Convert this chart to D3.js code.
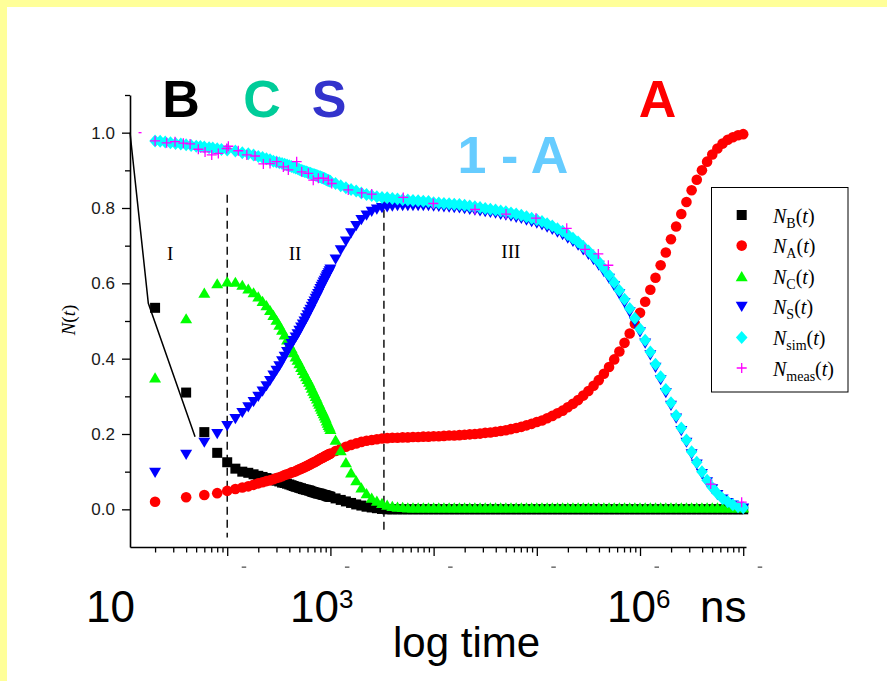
<!DOCTYPE html>
<html><head><meta charset="utf-8">
<script src="https://cdn.jsdelivr.net/npm/d3@7"></script>
<style>body{margin:0;background:#fff}svg{display:block}</style>
</head><body>
<svg id="c" width="887" height="681"></svg>
<script>
// ---------- DATA ----------
// simulation time grid (ns): 20 ns steps up to 1 µs, then ~0.05 decade
const timeNs = [
 20, 40, 60, 80,
 100,120,140,160,180,200,220,240,260,280,300,320,340,360,380,400,420,440,460,480,500,520,540,560,580,600,620,640,660,680,700,720,740,760,780,800,820,840,860,880,900,920,940,960,980,1000,
 1122,1259,1413,1585,1778,1995,2239,2512,2818,3162,3548,3981,4467,5012,5623,6310,7079,7943,8913,
 1.0e4,1.122e4,1.259e4,1.413e4,1.585e4,1.778e4,1.995e4,2.239e4,2.512e4,2.818e4,3.162e4,3.548e4,3.981e4,4.467e4,5.012e4,5.623e4,6.310e4,7.079e4,7.943e4,8.913e4,
 1.0e5,1.122e5,1.259e5,1.413e5,1.585e5,1.778e5,1.995e5,2.239e5,2.512e5,2.818e5,3.162e5,3.548e5,3.981e5,4.467e5,5.012e5,5.623e5,6.310e5,7.079e5,7.943e5,8.913e5,
 1.0e6,1.122e6,1.259e6,1.413e6,1.585e6,1.778e6,1.995e6,2.239e6,2.512e6,2.818e6,3.162e6,3.548e6,3.981e6,4.467e6,5.012e6,5.623e6,6.310e6,7.079e6,7.943e6,8.913e6,
 1.0e7
];
const nB = [
 0.535,0.31,0.205,0.15,
 0.125,0.108,0.100,0.097,0.093,0.089,0.086,0.083,0.081,0.078,0.076,0.074,0.071,0.070,0.068,0.066,0.064,0.062,0.060,0.059,0.057,0.056,0.054,0.053,0.052,0.051,0.050,0.049,0.047,0.046,0.045,0.044,0.043,0.042,0.042,0.041,0.040,0.039,0.038,0.038,0.037,0.036,0.035,0.034,0.034,0.033,
 0.029,0.025,0.021,0.017,0.013,0.010,0.007,0.005,0.003,0.001,0,0,0,0,0,0,0,0,0,
 0,0,0,0,0,0,0,0,0,0,0,0,0,0,0,0,0,0,0,0,
 0,0,0,0,0,0,0,0,0,0,0,0,0,0,0,0,0,0,0,0,
 0,0,0,0,0,0,0,0,0,0,0,0,0,0,0,0,0,0,0,0,
 0
];
const nA = [
 0.020,0.032,0.038,0.043,
 0.049,0.054,0.058,0.061,0.065,0.069,0.072,0.075,0.077,0.080,0.083,0.085,0.088,0.091,0.093,0.095,0.098,0.099,0.101,0.104,0.106,0.108,0.110,0.112,0.114,0.116,0.118,0.120,0.122,0.124,0.125,0.127,0.129,0.131,0.133,0.134,0.136,0.137,0.139,0.140,0.142,0.143,0.144,0.146,0.147,0.148,
 0.155,0.161,0.166,0.171,0.175,0.179,0.182,0.184,0.186,0.188,0.189,0.190,0.190,0.191,0.191,0.192,0.192,0.193,0.193,
 0.194,0.194,0.195,0.196,0.196,0.197,0.198,0.199,0.200,0.201,0.203,0.204,0.206,0.208,0.210,0.213,0.216,0.219,0.223,0.227,
 0.232,0.236,0.242,0.248,0.255,0.262,0.271,0.280,0.290,0.302,0.314,0.328,0.343,0.360,0.378,0.398,0.419,0.442,0.467,0.493,
 0.522,0.551,0.583,0.615,0.648,0.682,0.717,0.751,0.784,0.816,0.847,0.875,0.900,0.923,0.942,0.958,0.971,0.981,0.988,0.993,
 0.996
];
const nC = [
 0.350,0.507,0.575,0.600,
 0.605,0.604,0.596,0.586,0.576,0.565,0.553,0.542,0.529,0.516,0.503,0.490,0.477,0.464,0.451,0.439,0.428,0.417,0.406,0.397,0.388,0.378,0.370,0.361,0.353,0.346,0.339,0.331,0.323,0.315,0.308,0.301,0.294,0.286,0.280,0.273,0.267,0.261,0.255,0.249,0.243,0.236,0.230,0.224,0.219,0.213,
 0.185,0.157,0.125,0.098,0.077,0.058,0.043,0.031,0.023,0.017,0.012,0.009,0.007,0.006,0.005,0.005,0.005,0.005,0.005,
 0.005,0.005,0.005,0.005,0.005,0.005,0.005,0.005,0.005,0.005,0.005,0.005,0.005,0.005,0.005,0.005,0.005,0.005,0.005,0.005,
 0.005,0.005,0.005,0.005,0.005,0.005,0.005,0.005,0.005,0.005,0.005,0.005,0.005,0.005,0.005,0.005,0.005,0.005,0.005,0.005,
 0.005,0.005,0.005,0.005,0.005,0.005,0.005,0.005,0.005,0.005,0.005,0.005,0.005,0.005,0.005,0.005,0.005,0.005,0.005,0.005,
 0.005
];
const nS = [
 0.097,0.145,0.177,0.200,
 0.221,0.240,0.256,0.271,0.285,0.299,0.313,0.327,0.341,0.355,0.368,0.380,0.393,0.405,0.418,0.429,0.439,0.447,0.456,0.465,0.474,0.483,0.491,0.499,0.507,0.515,0.523,0.530,0.538,0.545,0.552,0.559,0.565,0.572,0.578,0.585,0.591,0.596,0.602,0.607,0.613,0.618,0.622,0.627,0.632,0.637,
 0.663,0.688,0.711,0.733,0.752,0.768,0.780,0.790,0.796,0.800,0.802,0.804,0.805,0.805,0.805,0.805,0.805,0.805,0.805,
 0.804,0.803,0.802,0.801,0.800,0.799,0.797,0.795,0.793,0.791,0.789,0.787,0.785,0.782,0.780,0.777,0.774,0.771,0.767,0.763,
 0.759,0.754,0.748,0.742,0.735,0.728,0.719,0.710,0.700,0.688,0.676,0.662,0.647,0.630,0.612,0.592,0.571,0.548,0.523,0.497,
 0.470,0.440,0.409,0.376,0.343,0.309,0.275,0.241,0.208,0.177,0.146,0.119,0.094,0.072,0.053,0.038,0.026,0.017,0.010,0.005,
 0.002
];
const nSim = [
 0.978,0.968,0.962,0.957,
 0.954,0.951,0.947,0.944,0.941,0.937,0.934,0.931,0.928,0.924,0.922,0.920,0.918,0.916,0.914,0.912,0.910,0.908,0.906,0.905,0.902,0.900,0.899,0.897,0.896,0.894,0.893,0.892,0.890,0.889,0.888,0.887,0.886,0.884,0.883,0.883,0.881,0.880,0.879,0.878,0.876,0.875,0.874,0.873,0.872,0.871,
 0.865,0.859,0.854,0.849,0.845,0.840,0.836,0.833,0.830,0.828,0.827,0.825,0.824,0.822,0.821,0.820,0.819,0.818,0.817,
 0.814,0.813,0.812,0.811,0.810,0.809,0.807,0.805,0.803,0.801,0.799,0.797,0.795,0.792,0.790,0.787,0.784,0.781,0.777,0.773,
 0.769,0.764,0.758,0.752,0.745,0.738,0.729,0.720,0.710,0.698,0.686,0.672,0.657,0.640,0.622,0.602,0.581,0.558,0.533,0.507,
 0.479,0.449,0.418,0.385,0.352,0.318,0.283,0.249,0.216,0.184,0.153,0.125,0.100,0.077,0.058,0.042,0.029,0.020,0.012,0.007,
 0.004
];
// extra early simulation points (finer grid before 100 ns)
const simExtraT = [22.4,25.1,28.2,31.6,35.5,44.7,50.1,54.9,66.8,72.4,88.0];
const simExtraV = [0.977,0.975,0.973,0.971,0.970,0.966,0.964,0.963,0.960,0.959,0.955];
// measured points
const measT = [20.0,25.9,31.2,37.6,43.7,52.5,61.0,70.8,82.0,98.9,102.6,128,155,186,224,260,302,350,391,471,527,611,682,764,853,955,1030,1489,2009,2512,5082,9931,25180,50350,98170,1.95e5,2.931e5,3.945e5,4.932e5,4.842e6,9.66e6];
const measV = [0.978,0.973,0.976,0.972,0.970,0.956,0.949,0.941,0.945,0.958,0.964,0.952,0.941,0.938,0.917,0.918,0.923,0.909,0.901,0.923,0.896,0.892,0.874,0.879,0.879,0.874,0.865,0.848,0.840,0.837,0.828,0.812,0.796,0.784,0.773,0.746,0.690,0.678,0.648,0.067,0.019];
const measFirstT = [14.3];
const measFirstV = [1.0];
// fitted line through B at early times
const fitT = [11.43, 17.2, 48.8];
const fitV = [1.0, 0.547, 0.193];
// dashed region separators
const dashT = [100, 3300];
const dashTop = [0.835, 0.83];
const dashBottom = [-0.075, -0.06];
// region numerals
const regionLabels = ["I","II","III"];
const regionT = [28, 454, 5.6e4];
const regionV = [0.662, 0.662, 0.667];
// axis ticks
const xMajorTicks = [1e2,1e3,1e4,1e5,1e6,1e7];
const yMajorTicks = [0,0.2,0.4,0.6,0.8,1.0];
const yMinorTicks = [0.1,0.3,0.5,0.7,0.9,1.1];
// legend
const legendSubs = ["B","A","C","S","sim","meas"];

// ---------- DRAW ----------
const W = 887, H = 681;
const svg = d3.select('#c');
svg.append('rect').attr('width', W).attr('height', H).attr('fill', '#fff');
svg.append('rect').attr('x', 0).attr('y', 0).attr('width', W).attr('height', 7).attr('fill', '#ffff99');
svg.append('rect').attr('x', 0).attr('y', 0).attr('width', 7).attr('height', H).attr('fill', '#ffff99');

const x = d3.scaleLog().domain([11.43, 1.0641e7]).range([130, 746]);
const y = d3.scaleLinear().domain([-0.1, 1.1]).range([547, 95]);

const SANS = "'Liberation Sans', Arial, Helvetica, sans-serif";
const SERIF = "'Liberation Serif', 'Times New Roman', Times, serif";

// axes
const xMinorTicks = x.ticks().filter(v => !xMajorTicks.includes(v) && Math.abs(Math.log10(v) % 1) > 1e-6);
const gx = svg.append('g').attr('transform', 'translate(0,547)');
gx.call(d3.axisBottom(x).tickValues(xMajorTicks).tickSize(9).tickSizeOuter(0).tickFormat(''));
const gxm = svg.append('g').attr('transform', 'translate(0,547)');
gxm.call(d3.axisBottom(x).tickValues(xMinorTicks).tickSize(5.5).tickSizeOuter(0).tickFormat(''));
gxm.select('.domain').remove();

const gy = svg.append('g').attr('transform', 'translate(130,0)');
gy.call(d3.axisLeft(y).tickValues(yMajorTicks).tickSize(8).tickPadding(7).tickSizeOuter(0).tickFormat(d3.format('.1f')));
const gym = svg.append('g').attr('transform', 'translate(130,0)');
gym.call(d3.axisLeft(y).tickValues(yMinorTicks).tickSize(5).tickSizeOuter(0).tickFormat(''));
gym.select('.domain').remove();

svg.selectAll('.domain').attr('stroke', '#000').attr('stroke-width', 1.6);
svg.selectAll('.tick line').attr('stroke', '#000').attr('stroke-width', 1.3);
gy.selectAll('.tick text').attr('font-family', SANS).attr('font-size', 17).attr('fill', '#1a1a1a');

// remnants of hidden tick labels
svg.append('g').selectAll('rect').data(xMajorTicks).join('rect')
  .attr('x', d => x(d) + 14.5).attr('y', 566.5).attr('width', 4.5).attr('height', 1.3).attr('fill', '#555');

// dashed separators
svg.append('g').selectAll('line').data(dashT).join('line')
  .attr('x1', d => x(d)).attr('x2', d => x(d))
  .attr('y1', (d, i) => y(dashTop[i])).attr('y2', (d, i) => y(dashBottom[i]))
  .attr('stroke', '#000').attr('stroke-width', 1.4).attr('stroke-dasharray', '8,5');

// region numerals
svg.append('g').selectAll('text').data(regionLabels).join('text')
  .attr('x', (d, i) => x(regionT[i])).attr('y', (d, i) => y(regionV[i]))
  .attr('text-anchor', 'middle').attr('font-family', SERIF).attr('font-size', 19).attr('fill', '#000')
  .text(d => d);

// marker shapes
const shapes = {
  square: 'M-5,-5H5V5H-5Z',
  circle: d3.symbol(d3.symbolCircle, Math.PI * 5.3 * 5.3)(),
  tri: 'M0,-5.2L6,5H-6Z',
  tridown: 'M0,5.2L6,-5H-6Z',
  diamond: 'M0,-6.5L5.8,0L0,6.5L-5.8,0Z',
  plus: 'M-5,0H5M0,-5V5',
  tinyplus: 'M-1.5,0H1.5'
};
const series = [
  {t: timeNs, vals: nB, color: '#000000', shape: 'square'},
  {t: timeNs, vals: nA, color: '#ff0000', shape: 'circle'},
  {t: timeNs, vals: nC, color: '#00ff00', shape: 'tri'},
  {t: timeNs, vals: nS, color: '#0000ff', shape: 'tridown'},
  {t: simExtraT.concat(timeNs), vals: simExtraV.concat(nSim), color: '#00ffff', shape: 'diamond'}
];

// B fit line (under markers)
svg.append('path')
  .attr('d', d3.line().x(d => x(d[0])).y(d => y(d[1]))(fitT.map((t, i) => [t, fitV[i]])))
  .attr('fill', 'none').attr('stroke', '#000').attr('stroke-width', 1.5);

series.forEach(s => {
  const pts = s.t.map((t, i) => [t, s.vals[i]]).filter(d => d[1] !== undefined);
  svg.append('g').selectAll('path').data(pts).join('path')
    .attr('transform', d => `translate(${x(d[0])},${y(d[1])})`)
    .attr('d', shapes[s.shape]).attr('fill', s.color);
});
const gm = svg.append('g').attr('fill', 'none').attr('stroke', '#ff00ff').attr('stroke-width', 1.3);
gm.selectAll('path.m').data(measT.map((t, i) => [t, measV[i]])).join('path').attr('class', 'm')
  .attr('transform', d => `translate(${x(d[0])},${y(d[1])})`).attr('d', shapes.plus);
gm.selectAll('path.f').data(measFirstT.map((t, i) => [t, measFirstV[i]])).join('path').attr('class', 'f')
  .attr('transform', d => `translate(${x(d[0])},${y(d[1])})`).attr('d', shapes.tinyplus);

// legend
const lg = svg.append('g');
lg.append('rect').attr('x', 711.5).attr('y', 187.5).attr('width', 136.5).attr('height', 204.5)
  .attr('fill', '#fff').attr('stroke', '#000').attr('stroke-width', 1);
const legendShapes = ['square', 'circle', 'tri', 'tridown', 'diamond', 'plus'];
const legendColors = ['#000000', '#ff0000', '#00ff00', '#0000ff', '#00ffff', '#ff00ff'];
legendSubs.forEach((sub, i) => {
  const cy = 215 + i * 30.6;
  const p = lg.append('path').attr('transform', `translate(741.7,${cy})`).attr('d', shapes[legendShapes[i]]);
  if (legendShapes[i] === 'plus') p.attr('fill', 'none').attr('stroke', legendColors[i]).attr('stroke-width', 1.3);
  else p.attr('fill', legendColors[i]);
  const t = lg.append('text').attr('x', 773).attr('y', cy + 7.5).attr('font-family', SERIF).attr('font-size', 20).attr('fill', '#000');
  t.append('tspan').attr('font-style', 'italic').text('N');
  t.append('tspan').attr('font-size', 14).attr('dy', 5).text(sub);
  t.append('tspan').attr('dy', -5).text('(');
  t.append('tspan').attr('font-style', 'italic').text('t');
  t.append('tspan').text(')');
});

// y axis title
const yt = svg.append('text').attr('transform', 'translate(75,320) rotate(-90)')
  .attr('text-anchor', 'middle').attr('font-family', SERIF).attr('font-size', 19).attr('fill', '#000');
yt.append('tspan').attr('font-style', 'italic').text('N');
yt.append('tspan').text('(');
yt.append('tspan').attr('font-style', 'italic').text('t');
yt.append('tspan').text(')');

// big species labels
const bigLabels = [
  {t: 'B', x: 181, y: 117, c: '#000000'},
  {t: 'C', x: 262, y: 117, c: '#00cc99'},
  {t: 'S', x: 329, y: 117, c: '#3333cc'},
  {t: 'A', x: 657.5, y: 117, c: '#ff0000'},
  {t: '1 - A', x: 513, y: 173, c: '#66ccff'}
];
svg.append('g').selectAll('text').data(bigLabels).join('text')
  .attr('x', d => d.x).attr('y', d => d.y).attr('text-anchor', 'middle')
  .attr('font-family', SANS).attr('font-weight', 'bold').attr('font-size', 52)
  .attr('fill', d => d.c).text(d => d.t);

// big axis annotations
const ax = svg.append('g').attr('font-family', SANS).attr('fill', '#000');
ax.append('text').attr('x', 135).attr('y', 622).attr('text-anchor', 'end').attr('font-size', 44).text('10');
const t3 = ax.append('text').attr('x', 290).attr('y', 622).attr('font-size', 44);
t3.append('tspan').text('10');
t3.append('tspan').attr('font-size', 26).attr('dy', -14).text('3');
const t6 = ax.append('text').attr('x', 607).attr('y', 622).attr('font-size', 44);
t6.append('tspan').text('10');
t6.append('tspan').attr('font-size', 26).attr('dy', -14).text('6');
ax.append('text').attr('x', 700).attr('y', 622).attr('font-size', 44).text('ns');
ax.append('text').attr('x', 393).attr('y', 657).attr('font-size', 42).text('log time');
</script>
</body></html>
